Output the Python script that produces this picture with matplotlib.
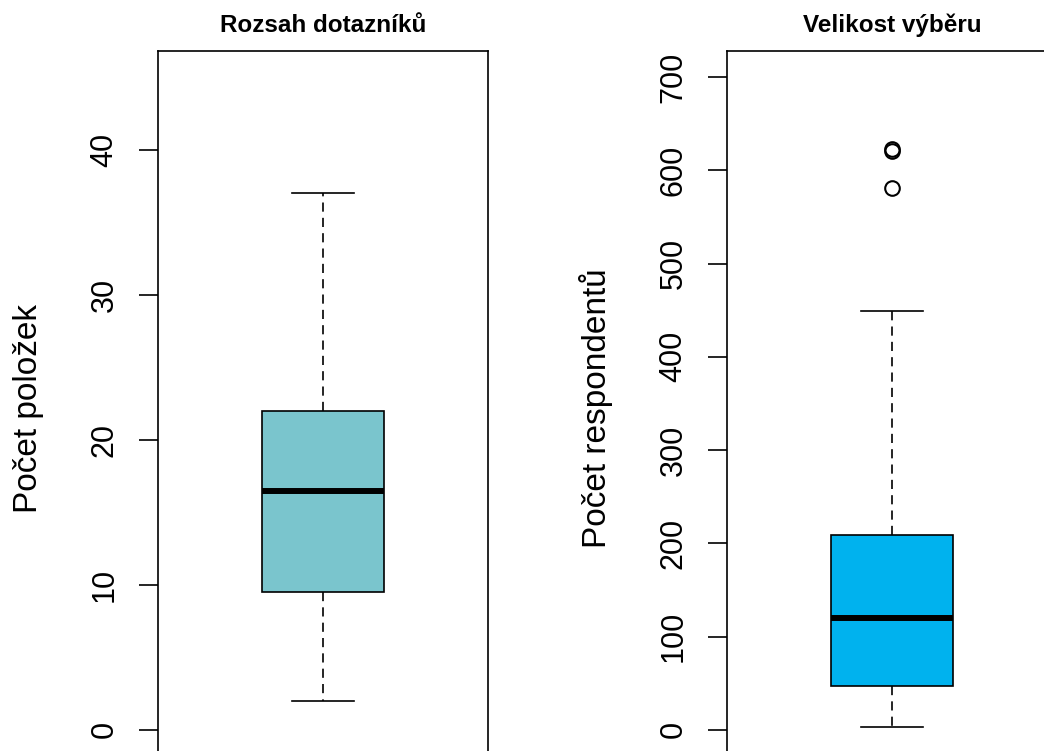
import matplotlib
matplotlib.use('Agg')
import matplotlib.pyplot as plt

plt.rcParams['font.family'] = ['Liberation Sans', 'DejaVu Sans']

# Left panel: questionnaire length (number of items)
items_stats = dict(whislo=2, q1=9.5, med=16.5, q3=22, whishi=37, fliers=[])
items_ylim = (0, 45)
items_ticks = [0, 10, 20, 30, 40]

# Right panel: sample size (number of respondents)
resp_stats = dict(whislo=3, q1=47, med=120, q3=209, whishi=449, fliers=[581, 621, 623])
resp_ylim = (0, 700)
resp_ticks = [0, 100, 200, 300, 400, 500, 600, 700]

panels = [
    ('Rozsah dotazníků', 'Počet položek', items_stats, items_ylim, items_ticks, '#7AC5CD', 158),
    ('Velikost výběru', 'Počet respondentů', resp_stats, resp_ylim, resp_ticks, '#00B2EE', 727),
]

W, H = 1044, 751
fig = plt.figure(figsize=(W / 100, H / 100), dpi=100)

for title, ylabel, stats, ylim, ticks, colour, left_px in panels:
    ax = fig.add_axes([left_px / W, -5 / H, 330 / W, 705 / H])
    ax.bxp([stats], positions=[1], widths=0.4, capwidths=0.2, patch_artist=True,
           boxprops=dict(facecolor=colour, edgecolor='black', linewidth=1.2),
           medianprops=dict(color='black', linewidth=4.3, solid_capstyle='butt'),
           whiskerprops=dict(color='black', linewidth=1.2, linestyle=(0, (5.5, 3.7))),
           capprops=dict(color='black', linewidth=1.2),
           flierprops=dict(marker='o', markerfacecolor='none', markeredgecolor='black',
                           markersize=10.5, markeredgewidth=1.5))
    rng = ylim[1] - ylim[0]
    ax.set_ylim(ylim[0] - 0.04 * rng, ylim[1] + 0.04 * rng)
    ax.set_xlim(0.46, 1.54)
    ax.set_yticks(ticks)
    ax.set_xticks([])
    ax.tick_params(axis='y', labelsize=22, labelrotation=90, length=13.7, width=1.2, pad=14)
    for lab in ax.get_yticklabels():
        lab.set_verticalalignment('center')
    for sp in ax.spines.values():
        sp.set_linewidth(1.2)
    ax.set_title(title, fontsize=17.5, fontweight='bold', pad=13.5)
    ax.set_ylabel(ylabel, fontsize=24)
    ax.yaxis.set_label_coords(-0.345, 0.493)

fig.savefig('out.png', dpi=100)
